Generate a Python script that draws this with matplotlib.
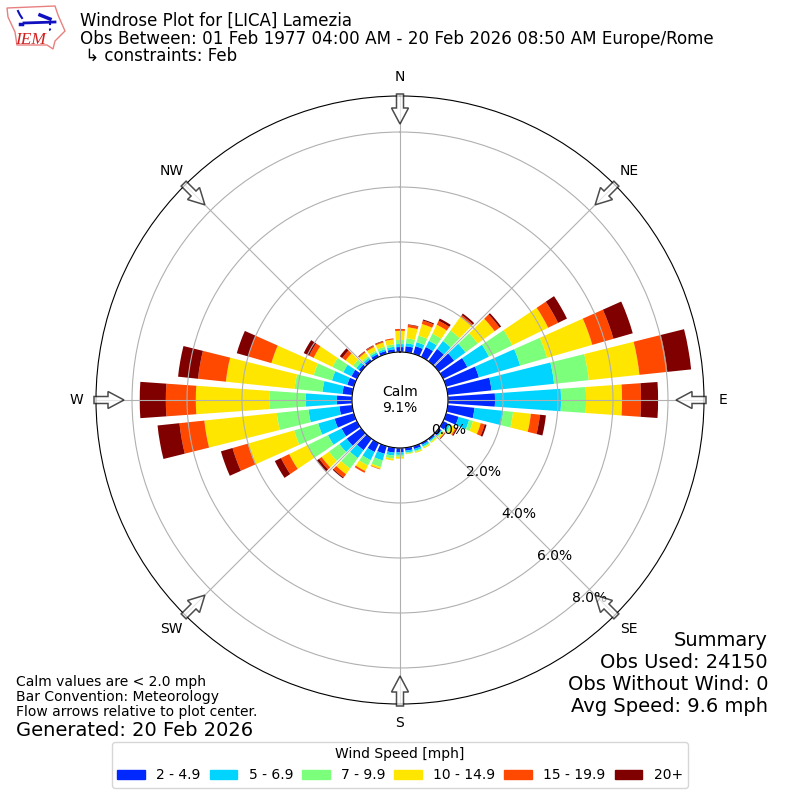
import numpy as np
import matplotlib
matplotlib.use("Agg")
import matplotlib.pyplot as plt
from matplotlib.patches import FancyArrow, Polygon, Rectangle

directions = np.arange(0, 360, 10)
speed_labels = ["2 - 4.9", "5 - 6.9", "7 - 9.9", "10 - 14.9", "15 - 19.9", "20+"]
colors = ["#0028ff", "#00d4ff", "#7cff7a", "#ffe600", "#ff4800", "#800000"]

# percent of obs per direction bin
s2_5 = [.18, .22, .29, .40, .55, .69, .98, 1.24, 1.60, 1.71, .98, .47, .18, .11, .07, .07, .11, .11,
        .16, .18, .29, .36, .51, .65, .62, .73, .47, .55, .36, .25, .22, .11, .09, .11, .11, .11]
s5_7 = [.11, .11, .15, .25, .36, .51, .87, 1.56, 2.29, 2.40, 1.05, .40, .11, .04, .04, .07, .07, .07,
        .09, .11, .25, .33, .36, .33, .55, .62, 1.13, 1.13, .73, .58, .33, .11, .07, .07, .07, .09]
s7_10 = [.15, .18, .25, .29, .47, .55, .95, 1.02, 1.27, .91, .36, .15, .07, .04, .04, .04, .04, .04,
         .07, .11, .25, .22, .47, .47, .84, .91, 1.16, 1.31, 1.02, .69, .44, .15, .07, .07, .09, .09]
s10_15 = [.33, .40, .44, .36, .62, .76, 1.45, 1.71, 1.85, 1.31, .65, .29, .15, .07, .04, .04, .04, .02,
          .07, .07, .07, .22, .25, .33, .73, 1.75, 2.65, 2.69, 2.51, 1.60, .76, .33, .16, .15, .16, .18]
s15_20 = [.07, .09, .13, .16, .07, .22, .40, .80, 1.02, .69, .33, .15, .04, .02, 0, 0, 0, 0,
          0, 0, .02, .07, .15, .11, .33, .58, .91, 1.09, 1.02, .87, .18, .15, .04, .05, .04, .04]
s20 = [0, .02, .04, .09, .07, .07, .36, .73, .87, .62, .22, .07, .04, .02, 0, 0, 0, 0,
       0, 0, 0, 0, .04, .11, .25, .44, .80, .95, .73, .44, .22, .11, .02, .02, .02, 0]
series = [s2_5, s5_7, s7_10, s10_15, s15_20, s20]

rings = [0, 2, 4, 6, 8]
compass = ["N", "NE", "E", "SE", "S", "SW", "W", "NW"]
compass_deg = [0, 45, 90, 135, 180, 225, 270, 315]
summary = ["Summary", "Obs Used: 24150", "Obs Without Wind: 0", "Avg Speed: 9.6 mph"]

fig = plt.figure(figsize=(8, 8), dpi=100)
ax = fig.add_axes([0.12, 0.12, 0.76, 0.76], projection="polar")
ax.set_theta_zero_location("N")
ax.set_theta_direction(-1)

theta = np.deg2rad(directions)
bottom = np.zeros(len(directions))
handles = []
for vals, color, label in zip(series, colors, speed_labels):
    vals = np.array(vals)
    ax.bar(theta, vals, width=np.deg2rad(8), bottom=bottom, color=color, label=label, linewidth=0)
    handles.append(Rectangle((0, 0), 1, 1, color=color))
    bottom += vals

ax.set_rorigin(-1.745)
ax.set_ylim(0, 9.31)
ax.set_yticks(rings)
ax.set_yticklabels([f"{r:.1f}%" for r in rings])
ax.set_rlabel_position(140)
ax.set_xticks(np.deg2rad(compass_deg))
ax.set_xticklabels(compass)
ax.grid(True)

# flow arrows around the edge, pointing at the center
for deg in compass_deg:
    a = np.deg2rad(deg)
    sx, sy = np.sin(a), np.cos(a)
    x0, y0 = 0.5 + 0.5 * sx * 306 / 304, 0.5 + 0.5 * sy * 306 / 304
    x1, y1 = 0.5 + 0.5 * sx * 276 / 304, 0.5 + 0.5 * sy * 276 / 304
    ax.add_patch(FancyArrow(x0, y0, x1 - x0, y1 - y0, width=7 / 608, head_width=17 / 608,
                            head_length=16 / 608, length_includes_head=True, transform=ax.transAxes,
                            facecolor="white", edgecolor="black", linewidth=1.1, alpha=0.7,
                            clip_on=False, zorder=5))

ax.text(0.5, 0.5, "Calm\n9.1%", transform=ax.transAxes, ha="center", va="center", fontsize=10)

fig.text(80 / 800, 1 - 21 / 800, "Windrose Plot for [LICA] Lamezia", fontsize=12, va="center")
fig.text(80 / 800, 1 - 39 / 800, "Obs Between: 01 Feb 1977 04:00 AM - 20 Feb 2026 08:50 AM Europe/Rome",
         fontsize=12.08, va="center")
fig.text(80 / 800, 1 - 56 / 800, " \u21b3 constraints: Feb", fontsize=12, va="center")

for line, ypix in zip(summary, [640, 662, 684, 706]):
    fig.text(768 / 800, 1 - ypix / 800, line, fontsize=14, ha="right", va="center")
fig.text(16 / 800, 1 - 719 / 800, "Calm values are < 2.0 mph\nBar Convention: Meteorology\n"
         "Flow arrows relative to plot center.", fontsize=10, va="bottom", linespacing=1.1)
fig.text(16 / 800, 1 - 736 / 800, "Generated: 20 Feb 2026", fontsize=14, va="baseline")

fig.legend(handles, speed_labels, title="Wind Speed [mph]", ncol=6, loc="lower center",
           bbox_to_anchor=(0.5, 0.0065), fontsize=10, title_fontsize=10, columnspacing=0.65)

# IEM logo
logo = fig.add_axes([0, 1 - 52 / 800, 70 / 800, 52 / 800])
logo.set_xlim(0, 70)
logo.set_ylim(52, 0)
logo.axis("off")
logo.add_patch(Polygon([(7, 8), (55, 6), (58, 15), (65, 31), (55, 41), (53, 49), (47, 45), (17, 45), (15, 32), (8, 17)],
                       closed=True, fill=False, edgecolor="#e88080", linewidth=1))
logo.plot([24, 55], [23, 22], color="#1010c0", linewidth=2)
logo.plot([18, 20, 22], [11, 15, 18], color="#1010c0", linewidth=1.5)
logo.plot([20, 22], [24, 24], color="#1010c0", linewidth=2.5)
logo.plot([40, 50], [15, 19], color="#1010c0", linewidth=2.5)
logo.plot([50, 50, 52], [23, 30, 32], color="#1010c0", linewidth=1.5, linestyle=":")
logo.text(15, 44, "IEM", family="Liberation Serif", style="italic", color="#d02020", fontsize=12.5, va="baseline")

plt.savefig("out.png", dpi=100)
